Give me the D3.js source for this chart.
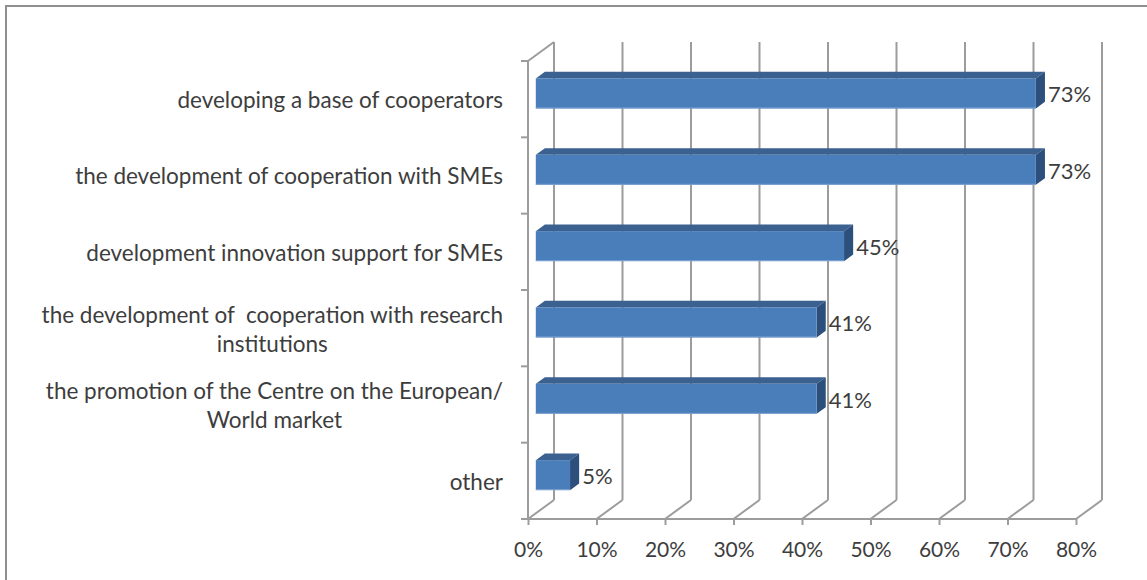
<!DOCTYPE html>
<html>
<head>
<meta charset="utf-8">
<script src="https://cdn.jsdelivr.net/npm/d3@7"></script>
<style>
  html, body { margin: 0; padding: 0; background: #fff; }
  svg { display: block; }
  text { font-family: Lato, "Open Sans", sans-serif; fill: #3d3d3d; white-space: pre; }
</style>
</head>
<body>
<svg id="chart" width="1147" height="580"></svg>
<script>
// Survey answers, shares of respondents
const categories = [
  "developing a base of cooperators",
  "the development of cooperation with SMEs",
  "development innovation support for SMEs",
  "the development of  cooperation with research\ninstitutions",
  "the promotion of the Centre on the European/\nWorld market",
  "other"
];
const values = [0.73, 0.73, 0.45, 0.41, 0.41, 0.05];
const valueLabels = ["73%", "73%", "45%", "41%", "41%", "5%"];
const tickValues = [0, 0.1, 0.2, 0.3, 0.4, 0.5, 0.6, 0.7, 0.8];

const svg = d3.select("#chart");

// Outer frame
svg.append("rect")
  .attr("x", 6).attr("y", 6).attr("width", 1160).attr("height", 600)
  .attr("fill", "none").attr("stroke", "#8f8f8f").attr("stroke-width", 2);

// Front plane of the 3-D plot box and the depth vector
const front = { left: 528, right: 1076, top: 61, bottom: 519 };
const depth = { dx: 26, dy: -19 };
const barDepth = [0.3, 0.65];          // bar front/back as fractions of depth
const barThickness = 30;
const gridColor = "#9c9c9c";

const x = d3.scaleLinear().domain([0, 0.8]).range([front.left, front.right]);
const y = d3.scaleBand().domain(categories).range([front.top, front.bottom]);

const grid = svg.append("g")
  .attr("stroke", gridColor).attr("stroke-width", 2).attr("fill", "none");

// Back wall verticals and floor diagonals
tickValues.forEach(t => {
  const fx = x(t);
  grid.append("line")
    .attr("x1", fx + depth.dx).attr("x2", fx + depth.dx)
    .attr("y1", front.top + depth.dy).attr("y2", front.bottom + depth.dy);
  grid.append("line")
    .attr("x1", fx).attr("y1", front.bottom)
    .attr("x2", fx + depth.dx).attr("y2", front.bottom + depth.dy);
});

// Left wall: front edge and top edge
grid.append("line")
  .attr("x1", front.left).attr("x2", front.left)
  .attr("y1", front.top).attr("y2", front.bottom);
grid.append("line")
  .attr("x1", front.left).attr("y1", front.top)
  .attr("x2", front.left + depth.dx).attr("y2", front.top + depth.dy);

// Value axis line at the front of the floor
grid.append("line")
  .attr("x1", front.left).attr("x2", front.right)
  .attr("y1", front.bottom).attr("y2", front.bottom);

// Value axis ticks and labels
const xAxis = d3.axisBottom(x).tickValues(tickValues)
  .tickFormat(d3.format(".0%")).tickSize(6).tickPadding(17);
const xg = svg.append("g").attr("transform", `translate(0,${front.bottom})`).call(xAxis);
xg.select(".domain").remove();
xg.selectAll(".tick line").attr("stroke", gridColor).attr("stroke-width", 2);
xg.selectAll(".tick text").attr("font-size", 21).attr("fill", "#3d3d3d")
  .style("font-family", "Lato, sans-serif");

// Category axis ticks on the left wall
const catTicks = categories.map(c => y(c)).concat([front.bottom]);
svg.append("g").selectAll("line").data(catTicks).join("line")
  .attr("x1", front.left - 7).attr("x2", front.left)
  .attr("y1", d => d).attr("y2", d => d)
  .attr("stroke", gridColor).attr("stroke-width", 2);

// Bars drawn as three visible faces
const colors = { front: "#4a7ebb", top: "#3a6190", side: "#2d4f7c" };
const ox0 = depth.dx * barDepth[0], oy0 = depth.dy * barDepth[0];
const ox1 = depth.dx * barDepth[1], oy1 = depth.dy * barDepth[1];

const bars = svg.append("g").selectAll("g").data(categories).join("g");
bars.each(function (c, i) {
  const g = d3.select(this);
  const cy = y(c) + y.bandwidth() / 2;
  const x0 = x(0) + ox0, x1 = x(values[i]) + ox0;
  const t = cy - barThickness / 2 + oy0, b = cy + barThickness / 2 + oy0;
  const ddx = ox1 - ox0, ddy = oy1 - oy0;
  g.append("path")
    .attr("d", `M${x0},${t} L${x0 + ddx},${t + ddy} L${x1 + ddx},${t + ddy} L${x1},${t} Z`)
    .attr("fill", colors.top);
  g.append("path")
    .attr("d", `M${x1},${t} L${x1 + ddx},${t + ddy} L${x1 + ddx},${b + ddy} L${x1},${b} Z`)
    .attr("fill", colors.side);
  g.append("rect")
    .attr("x", x0).attr("y", t).attr("width", x1 - x0).attr("height", b - t)
    .attr("fill", colors.front);
  g.append("line")
    .attr("x1", x0).attr("x2", x1).attr("y1", b - 0.5).attr("y2", b - 0.5)
    .attr("stroke", "#7fa3d3").attr("stroke-width", 1);

  // Value label
  g.append("text")
    .attr("x", x(values[i]) + ox1 + 3)
    .attr("y", cy + oy0 + 1)
    .attr("dy", "0.35em")
    .attr("font-size", 22)
    .text(valueLabels[i]);
});

// Category labels: lines centred as a block, block right-aligned
const labelRight = 503, lineH = 29;
categories.forEach(c => {
  const lines = c.split("\n");
  const cy = y(c) + y.bandwidth() / 2 + 1;
  const g = svg.append("g");
  const texts = lines.map((ln, k) => g.append("text")
    .attr("font-size", 22.5)
    .attr("y", cy + (k - (lines.length - 1) / 2) * lineH)
    .attr("dy", "0.35em")
    .text(ln));
  const widths = texts.map(tx => tx.node().getComputedTextLength());
  const maxW = d3.max(widths);
  const centre = labelRight - maxW / 2;
  texts.forEach(tx => tx.attr("x", centre).attr("text-anchor", "middle"));
});
</script>
</body>
</html>
